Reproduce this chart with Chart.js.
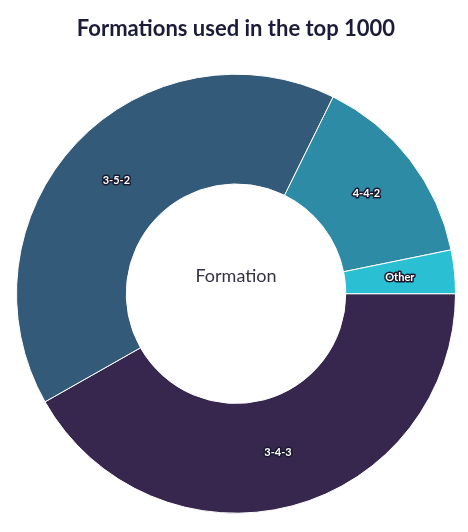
<!DOCTYPE html>
<html>
<head>
<meta charset="utf-8">
<script src="https://cdn.jsdelivr.net/npm/chart.js@4"></script>
<style>
  body { margin: 0; background: #fff; }
  #wrap { width: 468px; height: 532px; }
</style>
</head>
<body>
<div id="wrap"><canvas id="formationChart"></canvas></div>
<script>
// Formation shares (percent of top 1000)
const formations = ['3-4-3', '3-5-2', '4-4-2', 'Other'];
const shares = [41.8, 40.5, 14.5, 3.2];
const colours = ['#37264d', '#335a78', '#2e8ba6', '#2bbfd4'];

// Draws segment labels and the centre text
const labelPlugin = {
    id: 'labelPlugin',
    afterDatasetsDraw(chart) {
        const ctx = chart.ctx;
        const meta = chart.getDatasetMeta(0);
        ctx.save();
        ctx.textAlign = 'center';
        ctx.textBaseline = 'middle';
        ctx.font = 'bold 11px Lato, "Noto Sans", sans-serif';
        ctx.lineJoin = 'round';
        meta.data.forEach((arc, i) => {
            const pos = arc.tooltipPosition();
            ctx.lineWidth = 3;
            ctx.strokeStyle = '#1a1a2e';
            ctx.strokeText(formations[i], pos.x, pos.y);
            ctx.fillStyle = '#ffffff';
            ctx.fillText(formations[i], pos.x, pos.y);
        });
        const arc0 = meta.data[0];
        ctx.font = '18px Lato, "Noto Sans", sans-serif';
        ctx.fillStyle = '#333344';
        ctx.fillText('Formation', arc0.x, arc0.y - 18);
        ctx.restore();
    }
};

const ctx = document.getElementById('formationChart').getContext('2d');
new Chart(ctx, {
    type: 'doughnut',
    data: {
        labels: formations,
        datasets: [{
            data: shares,
            backgroundColor: colours,
            borderColor: '#ffffff',
            borderWidth: 1
        }]
    },
    options: {
        responsive: true,
        maintainAspectRatio: false,
        animation: false,
        rotation: 90,
        cutout: '50%',
        layout: { padding: { left: 16, right: 12, top: 14, bottom: 15 } },
        plugins: {
            legend: { display: false },
            tooltip: { enabled: false },
            title: {
                display: true,
                text: 'Formations used in the top 1000',
                color: '#1c1c3a',
                font: { size: 22, weight: 'bold', family: 'Lato, "Noto Sans", sans-serif' },
                padding: { top: 2, bottom: 28 }
            }
        }
    },
    plugins: [labelPlugin]
});
</script>
</body>
</html>
